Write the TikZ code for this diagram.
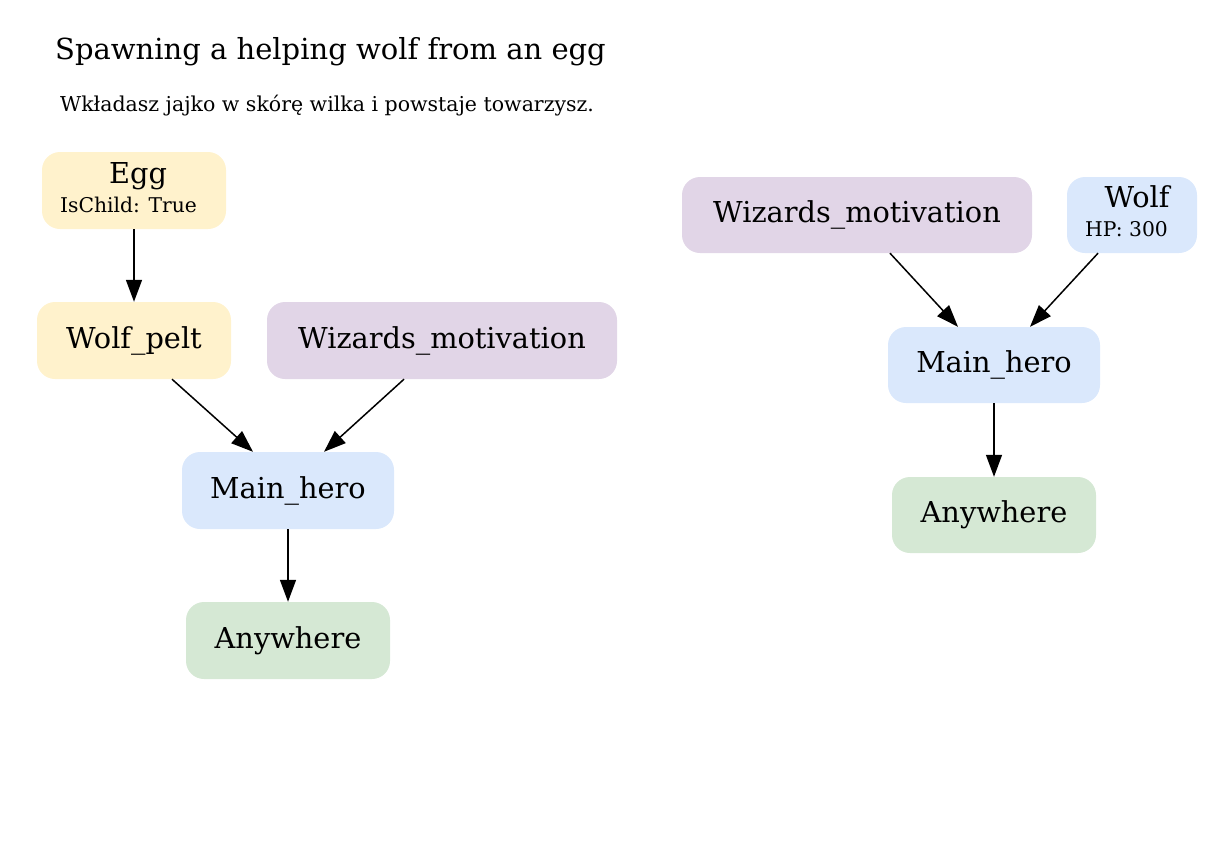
\documentclass[tikz,border=0pt]{standalone}
\usepackage{fontspec}
\setmainfont{DejaVu Serif}
\usetikzlibrary{arrows.meta}
\definecolor{cyellow}{HTML}{FFF2CC}
\definecolor{cpurple}{HTML}{E1D5E7}
\definecolor{cblue}{HTML}{DAE8FC}
\definecolor{cgreen}{HTML}{D5E8D4}
\tikzset{
  box/.style={rectangle, rounded corners=18pt, draw=none, inner sep=0pt, font=\fontsize{28.8}{32}\selectfont},
  sub/.style={inner sep=0pt, anchor=base west, font=\fontsize{20.3}{24}\selectfont},
  lab/.style={anchor=base, inner sep=0pt, font=\fontsize{28.8}{32}\selectfont},
  edge/.style={draw=black, line width=1.5pt, -{Triangle[length=22pt,width=16pt]}},
}
\begin{document}
\begin{tikzpicture}[x=1pt,y=-1pt]
\useasboundingbox (0,0) rectangle (1224,857);
\node[anchor=base west, inner sep=0pt, font=\fontsize{29}{33}\selectfont] (title) at (55,59) {Spawning a helping wolf from an egg};
\node[anchor=base west, inner sep=0pt, font=\fontsize{20.5}{24}\selectfont] (subtitle) at (60,111) {Wkładasz jajko w skórę wilka i powstaje towarzysz.};
% left graph
\node[box, fill=cyellow, minimum width=184pt, minimum height=77pt] (egg) at (134,190.5) {};
\node[lab] (eggt) at (138,183) {Egg};
\node[sub] (eggs) at (60,212) {IsChild: True};
\node[box, fill=cyellow, minimum width=194pt, minimum height=77pt] (pelt) at (134,340.5) {Wolf\_pelt};
\node[box, fill=cpurple, minimum width=350pt, minimum height=77pt] (wiz1) at (442,340.5) {Wizards\_motivation};
\node[box, fill=cblue, minimum width=212pt, minimum height=77pt] (hero1) at (288,490.5) {Main\_hero};
\node[box, fill=cgreen, minimum width=204pt, minimum height=77pt] (any1) at (288,640.5) {Anywhere};
% right graph
\node[box, fill=cpurple, minimum width=350pt, minimum height=76pt] (wiz2) at (857,215) {Wizards\_motivation};
\node[box, fill=cblue, minimum width=130pt, minimum height=76pt] (wolf) at (1132,215) {};
\node[lab] (wolft) at (1137,207) {Wolf};
\node[sub] (wolfs) at (1085,236) {HP: 300};
\node[box, fill=cblue, minimum width=212pt, minimum height=76pt] (hero2) at (994,365) {Main\_hero};
\node[box, fill=cgreen, minimum width=204pt, minimum height=76pt] (any2) at (994,515) {Anywhere};
% edges
\draw[edge] (egg.south) -- (pelt.north);
\draw[edge] ([xshift=38pt]pelt.south) -- ([xshift=-35pt]hero1.north);
\draw[edge] ([xshift=-38pt]wiz1.south) -- ([xshift=36pt]hero1.north);
\draw[edge] (hero1.south) -- (any1.north);
\draw[edge] ([xshift=33pt]wiz2.south) -- ([xshift=-36pt]hero2.north);
\draw[edge] ([xshift=-34pt]wolf.south) -- ([xshift=36pt]hero2.north);
\draw[edge] (hero2.south) -- (any2.north);
\end{tikzpicture}
\end{document}
